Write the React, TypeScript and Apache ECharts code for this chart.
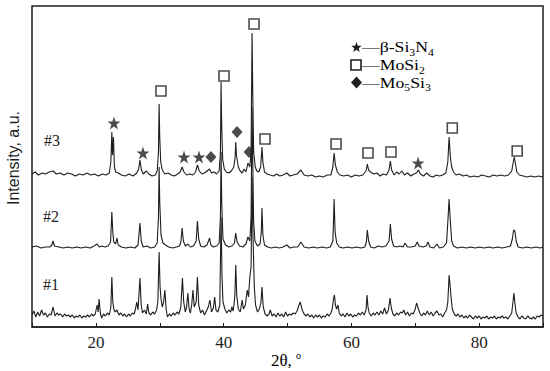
import React, { useEffect, useRef } from "react";
import * as echarts from "echarts";

// 2θ (deg) vs intensity (a.u., curves offset vertically as in the figure)
const sample3: [number, number][] = [
[10,153],[10.5,155],[11,152],[11.6,154],[12.1,153],[12.7,155],[13.3,156],[13.8,153],[14.4,154],[15,152],[15.6,154],[16.2,153],[16.8,151],[17.4,153],[18,152],[18.6,154],[19.2,152],[19.8,153],[20.4,151],[21,153],[21.6,152],[22.1,154],[22.35,165],[22.5,195],[22.6,172],[22.75,190],[22.9,160],[23.1,155],[23.5,154],[24,152],[24.6,151],[25.2,153],[25.8,151],[26.4,154],[26.7,158],[26.9,167],[27.1,158],[27.4,153],[27.9,156],[28.3,153],[28.8,151],[29.3,152],[29.6,156],[29.8,175],[29.9,223],[30.0,190],[30.15,165],[30.4,157],[30.8,153],[31.3,154],[31.8,152],[32.3,151],[32.8,153],[33.2,155],[33.5,160],[33.8,155],[34.2,152],[34.7,153],[35.2,152],[35.6,155],[35.9,162],[36.2,156],[36.6,153],[37.0,154],[37.4,156],[37.8,158],[38.1,154],[38.5,155],[38.9,153],[39.3,156],[39.5,175],[39.6,245],[39.7,200],[39.85,168],[40.1,158],[40.4,155],[40.8,154],[41.2,156],[41.6,160],[41.8,170],[41.9,185],[42.0,172],[42.3,160],[42.6,156],[42.9,154],[43.2,158],[43.5,155],[43.8,164],[44.1,160],[44.3,175],[44.45,294],[44.55,240],[44.7,175],[44.95,160],[45.2,156],[45.5,155],[45.8,160],[46.0,180],[46.15,165],[46.4,155],[46.8,153],[47.3,152],[47.8,151],[48.3,153],[48.8,151],[49.3,152],[49.9,154],[50.4,151],[50.9,152],[51.5,153],[52.1,157],[52.6,152],[53.2,151],[53.8,152],[54.4,150],[55,151],[55.6,150],[56.2,152],[56.8,152],[57.1,160],[57.3,174],[57.5,162],[57.8,155],[58.2,152],[58.8,151],[59.4,152],[60,150],[60.6,152],[61.2,151],[61.8,152],[62.3,156],[62.5,163],[62.7,157],[63.0,155],[63.5,153],[64,154],[64.5,151],[65,153],[65.5,152],[65.9,157],[66.1,166],[66.3,157],[66.7,152],[67.1,155],[67.5,153],[67.9,156],[68.3,152],[68.8,154],[69.3,151],[69.8,153],[70.2,154],[70.5,157],[70.8,153],[71.3,151],[71.8,154],[72.3,151],[72.8,150],[73.3,152],[73.8,151],[74.3,152],[74.8,154],[75.1,165],[75.3,190],[75.5,170],[75.7,160],[76,155],[76.4,152],[76.9,153],[77.5,151],[78,152],[78.6,150],[79.2,151],[79.8,150],[80.4,152],[81,151],[81.6,150],[82.2,152],[82.8,151],[83.4,152],[84,151],[84.6,152],[85.1,156],[85.35,165],[85.5,170],[85.7,163],[85.9,155],[86.3,152],[86.9,151],[87.5,150],[88.1,151],[88.7,150],[89.3,151],[90,150]
];

const sample2: [number, number][] = [
[10,80],[10.7,81],[11.4,79],[12.1,80],[12.8,80],[13.1,82],[13.3,86],[13.5,81],[14.2,80],[14.9,79],[15.6,80],[16.3,79],[17,80],[17.7,79],[18.4,80],[19.1,79],[19.7,81],[20.2,83],[20.5,80],[20.9,81],[21.4,80],[21.9,81],[22.3,85],[22.5,115],[22.65,95],[22.8,85],[23.1,83],[23.3,89],[23.5,82],[24,80],[24.7,79],[25.4,80],[26.1,79],[26.6,82],[26.9,104],[27.1,86],[27.4,80],[28,81],[28.6,79],[29.2,80],[29.6,84],[29.8,110],[29.9,160],[30.0,125],[30.2,92],[30.5,84],[30.9,82],[31.4,80],[32,79],[32.6,80],[33.1,81],[33.3,85],[33.5,99],[33.7,86],[34.0,81],[34.4,83],[34.8,80],[35.3,81],[35.7,86],[35.9,106],[36.1,88],[36.4,81],[36.9,80],[37.4,82],[37.8,89],[38.0,82],[38.4,80],[38.9,81],[39.3,84],[39.5,110],[39.6,175],[39.7,125],[39.9,88],[40.3,82],[40.8,80],[41.3,81],[41.7,84],[41.9,94],[42.1,85],[42.5,81],[43,80],[43.5,83],[43.8,90],[44.1,86],[44.3,110],[44.45,220],[44.55,170],[44.7,105],[44.9,86],[45.3,81],[45.7,83],[45.9,95],[46.0,119],[46.15,92],[46.4,82],[46.9,80],[47.5,79],[48.1,80],[48.7,79],[49.3,80],[49.9,82],[50.4,79],[51,80],[51.6,80],[52.1,85],[52.6,80],[53.3,79],[54,80],[54.7,79],[55.4,80],[56.1,79],[56.7,80],[57.1,86],[57.2,105],[57.3,128],[57.45,95],[57.7,84],[58.1,80],[58.7,79],[59.4,80],[60.1,79],[60.8,80],[61.5,79],[62.1,80],[62.35,85],[62.5,97],[62.7,86],[63,80],[63.6,79],[64.2,81],[64.8,80],[65.4,81],[65.9,86],[66.1,103],[66.3,88],[66.6,81],[67.1,80],[67.6,81],[68.1,80],[68.4,84],[68.8,80],[69.4,80],[70,81],[70.3,85],[70.6,81],[71.2,80],[71.7,81],[72.0,85],[72.3,80],[72.9,79],[73.4,83],[73.8,79],[74.4,80],[74.9,84],[75.1,105],[75.3,128],[75.45,110],[75.7,86],[76,81],[76.6,79],[77.3,80],[78,79],[78.7,80],[79.4,79],[80.1,80],[80.8,79],[81.5,80],[82.2,79],[82.9,80],[83.6,79],[84.3,80],[84.9,81],[85.2,88],[85.4,97],[85.6,96],[85.8,86],[86.1,80],[86.8,79],[87.5,80],[88.2,79],[88.9,80],[89.5,79],[90,80]
];

const sample1: [number, number][] = [
[10,12],[10.3,16],[10.6,10],[10.9,15],[11.2,11],[11.5,17],[11.8,12],[12.1,14],[12.4,10],[12.7,13],[13.0,12],[13.3,20],[13.6,11],[13.9,14],[14.2,12],[14.5,13],[14.8,10],[15.1,13],[15.4,11],[15.7,12],[16.0,10],[16.3,12],[16.6,9],[16.9,11],[17.2,10],[17.5,12],[17.8,9],[18.1,11],[18.4,10],[18.7,12],[19.0,10],[19.3,13],[19.6,11],[19.9,13],[20.2,22],[20.35,15],[20.5,28],[20.7,14],[20.9,9],[21.2,13],[21.5,11],[21.8,14],[22.1,12],[22.35,20],[22.5,50],[22.65,25],[22.8,18],[23.0,15],[23.3,17],[23.6,12],[23.9,14],[24.2,11],[24.5,13],[24.8,10],[25.1,13],[25.4,11],[25.7,14],[26.0,13],[26.2,18],[26.4,25],[26.6,17],[26.9,49],[27.1,22],[27.3,14],[27.6,17],[27.9,13],[28.1,23],[28.3,14],[28.6,12],[28.9,15],[29.2,13],[29.5,17],[29.7,25],[29.9,75],[30.05,40],[30.2,28],[30.4,20],[30.6,25],[30.8,37],[31.0,18],[31.2,10],[31.5,13],[31.8,11],[32.1,14],[32.4,12],[32.7,15],[33.0,13],[33.3,20],[33.55,49],[33.75,25],[34.0,15],[34.2,20],[34.4,34],[34.6,18],[34.8,14],[35.0,22],[35.2,37],[35.4,20],[35.7,25],[35.9,50],[36.1,22],[36.4,14],[36.7,17],[37.0,12],[37.3,16],[37.6,20],[37.85,27],[38.1,15],[38.4,19],[38.6,30],[38.8,17],[39.1,15],[39.4,22],[39.6,110],[39.75,50],[39.9,25],[40.2,18],[40.5,14],[40.8,17],[41.1,15],[41.3,20],[41.5,16],[41.75,30],[41.9,62],[42.05,32],[42.3,18],[42.6,15],[42.9,27],[43.1,18],[43.4,22],[43.7,37],[43.9,30],[44.1,50],[44.3,60],[44.45,150],[44.6,90],[44.8,40],[45.0,22],[45.3,15],[45.6,18],[45.85,25],[46.0,40],[46.2,20],[46.5,13],[46.8,11],[47.1,13],[47.3,17],[47.6,11],[47.9,13],[48.2,10],[48.5,14],[48.8,11],[49.1,13],[49.4,10],[49.7,15],[50.0,11],[50.3,13],[50.6,12],[50.9,14],[51.2,13],[51.5,16],[51.8,22],[52.0,25],[52.3,17],[52.6,13],[52.9,11],[53.2,13],[53.5,10],[53.8,12],[54.1,9],[54.4,12],[54.7,10],[55.0,12],[55.3,9],[55.6,11],[55.9,10],[56.2,13],[56.5,11],[56.8,14],[57.0,18],[57.2,28],[57.35,32],[57.5,22],[57.7,18],[57.9,22],[58.1,14],[58.4,11],[58.7,13],[59.0,10],[59.3,14],[59.6,11],[59.9,13],[60.2,10],[60.5,12],[60.8,11],[61.1,14],[61.4,12],[61.7,15],[62.0,12],[62.3,17],[62.45,32],[62.6,20],[62.8,14],[63.1,11],[63.4,14],[63.7,12],[64.0,15],[64.3,12],[64.6,16],[64.9,13],[65.2,19],[65.5,13],[65.8,17],[66.05,29],[66.25,19],[66.5,13],[66.8,11],[67.1,14],[67.4,12],[67.7,15],[68.0,14],[68.2,17],[68.5,12],[68.8,15],[69.1,11],[69.4,14],[69.7,13],[70.0,18],[70.2,24],[70.4,20],[70.7,14],[71.0,11],[71.3,14],[71.6,12],[71.9,16],[72.2,12],[72.5,15],[72.8,11],[73.1,14],[73.4,16],[73.7,12],[74.0,13],[74.3,10],[74.6,14],[74.9,17],[75.1,25],[75.3,52],[75.45,42],[75.6,30],[75.8,18],[76.1,13],[76.4,11],[76.7,13],[77.0,10],[77.3,12],[77.6,9],[77.9,11],[78.2,9],[78.5,12],[78.8,10],[79.1,8],[79.4,11],[79.7,9],[80.0,11],[80.3,8],[80.6,10],[80.9,9],[81.2,11],[81.5,8],[81.8,10],[82.1,9],[82.4,11],[82.7,8],[83.0,10],[83.3,9],[83.6,11],[83.9,9],[84.2,10],[84.5,8],[84.8,11],[85.1,14],[85.3,25],[85.45,34],[85.6,24],[85.8,14],[86.1,10],[86.4,8],[86.7,11],[87.0,9],[87.3,8],[87.6,11],[87.9,9],[88.2,8],[88.5,10],[88.8,8],[89.1,11],[89.4,10],[89.7,12],[90,11]
];

// phase markers above sample #3 peaks
const starMarks: [number, number][] = [[22.83,204],[27.37,174],[33.8,170],[36.15,170],[70.45,164]];
const squareMarks: [number, number][] = [[30.19,236],[40.06,251],[44.76,303],[46.48,188],[57.6,183],[62.6,174],[66.2,175],[75.8,199],[85.96,176]];
const diamondMarks: [number, number][] = [[38.02,170],[42.1,195],[43.98,175]];

const xTickLabels = [20, 40, 60, 80];
const sampleLabels = ["#3", "#2", "#1"];

const INK = "#1e1e1e";
const SERIF = "'Liberation Serif', 'DejaVu Serif', serif";
const STAR = "path://M50,0 L61.8,35.6 L99,35.6 L69,57.6 L80.4,93 L50,71.2 L19.6,93 L31,57.6 L1,35.6 L38.2,35.6 Z";

function starPoints(cx: number, cy: number, r: number): number[][] {
  const pts: number[][] = [];
  for (let i = 0; i < 10; i++) {
    const a = -Math.PI / 2 + (i * Math.PI) / 5;
    const rr = i % 2 === 0 ? r : r * 0.42;
    pts.push([cx + rr * Math.cos(a), cy + rr * Math.sin(a)]);
  }
  return pts;
}

export default function App() {
  const ref = useRef<HTMLDivElement>(null);
  useEffect(() => {
    if (!ref.current) return;
    const chart = echarts.init(ref.current, undefined, { renderer: "svg" });
    const lineSeries = (data: [number, number][]) => ({
      type: "line",
      data,
      showSymbol: false,
      symbol: "none",
      lineStyle: { color: INK, width: 1.1 },
      z: 2,
    });
    const rich = {
      a: { fontFamily: SERIF, fontSize: 15, color: INK, lineHeight: 20, verticalAlign: "middle" },
      s: { fontFamily: SERIF, fontSize: 10, color: INK, lineHeight: 10, verticalAlign: "bottom" },
    };
    const legendX = 362;
    const legendScale = 1.18;
    chart.setOption({
      animation: false,
      grid: { left: 32, right: 7, top: 6, bottom: 44, show: true, borderColor: INK, borderWidth: 1.5 },
      xAxis: {
        type: "value",
        min: 10,
        max: 90,
        interval: 10,
        axisLine: { show: true, lineStyle: { color: INK, width: 1.5 } },
        axisTick: { show: true, inside: true, length: 4, lineStyle: { color: INK } },
        axisLabel: {
          formatter: (v: number) => (xTickLabels.includes(v) ? String(v) : ""),
          fontFamily: SERIF,
          fontSize: 17,
          color: INK,
          margin: 7,
        },
        splitLine: { show: false },
      },
      yAxis: { type: "value", min: 0, max: 321, show: false },
      series: [
        lineSeries(sample3),
        lineSeries(sample2),
        lineSeries(sample1),
        {
          type: "scatter",
          data: starMarks,
          symbol: STAR,
          symbolSize: 13,
          itemStyle: { color: INK },
          z: 3,
        },
        {
          type: "scatter",
          data: squareMarks,
          symbol: "rect",
          symbolSize: 10,
          itemStyle: { color: "#ffffff", borderColor: INK, borderWidth: 1.6 },
          z: 3,
        },
        {
          type: "scatter",
          data: diamondMarks,
          symbol: "diamond",
          symbolSize: [11, 12],
          itemStyle: { color: INK },
          z: 3,
        },
      ],
      graphic: [
        // sample labels
        { type: "text", left: 44, top: 132, style: { text: sampleLabels[0], font: `16px ${SERIF}`, fill: INK } },
        { type: "text", left: 43, top: 208, style: { text: sampleLabels[1], font: `16px ${SERIF}`, fill: INK } },
        { type: "text", left: 43, top: 276, style: { text: sampleLabels[2], font: `16px ${SERIF}`, fill: INK } },
        // legend
        { type: "polygon", shape: { points: starPoints(356.5, 47.5, 5.5) }, style: { fill: INK } },
        {
          type: "text", x: legendX, y: 47, scaleX: legendScale, style: {
            text: "{a|—β-Si}{s|3}{a|N}{s|4}", rich, verticalAlign: "middle", align: "left",
          },
        },
        { type: "rect", shape: { x: 351, y: 60, width: 10, height: 10 }, style: { fill: "#fff", stroke: INK, lineWidth: 1.6 } },
        {
          type: "text", x: legendX, y: 65, scaleX: legendScale, style: {
            text: "{a|—MoSi}{s|2}", rich, verticalAlign: "middle", align: "left",
          },
        },
        { type: "polygon", shape: { points: [[356.5, 76.5], [362, 82.5], [356.5, 88.5], [351, 82.5]] }, style: { fill: INK } },
        {
          type: "text", x: legendX, y: 82.5, scaleX: legendScale, style: {
            text: "{a|—Mo}{s|5}{a|Si}{s|3}", rich, verticalAlign: "middle", align: "left",
          },
        },
        // axis titles
        {
          type: "text", x: 13, y: 158, rotation: Math.PI / 2,
          style: { text: "Intensity, a.u.", font: "16px 'Liberation Sans', Arial, sans-serif", fill: INK, align: "center", verticalAlign: "middle" },
        },
        {
          type: "text", x: 286, y: 360, style: {
            text: "{a|2θ, }{o|o}",
            rich: {
              a: { fontFamily: SERIF, fontSize: 17, color: INK, lineHeight: 20, verticalAlign: "middle" },
              o: { fontFamily: SERIF, fontSize: 10, color: INK, lineHeight: 10, verticalAlign: "top" },
            },
            align: "center", verticalAlign: "middle",
          },
        },
      ],
    });
    return () => chart.dispose();
  }, []);
  return <div ref={ref} style={{ position: "absolute", left: 0, top: 0, width: 550, height: 371 }} />;
}
